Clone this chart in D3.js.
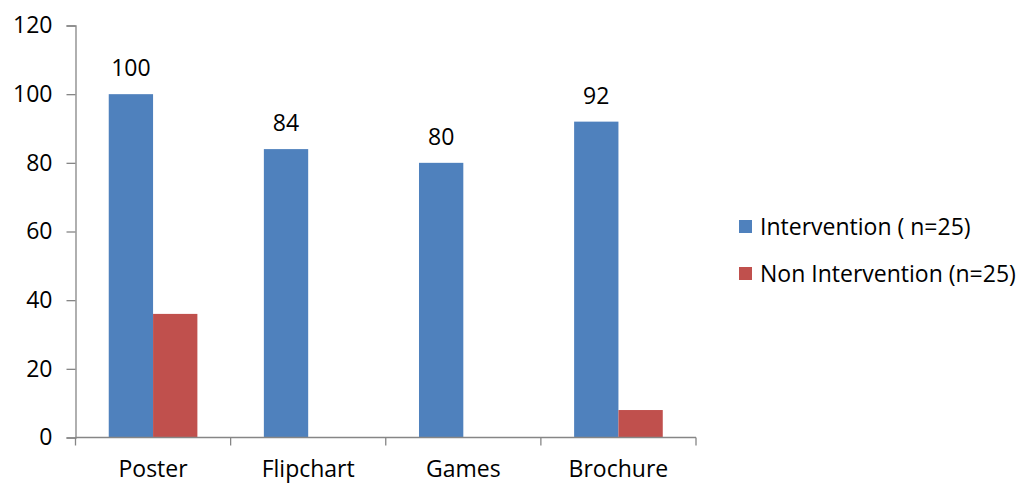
<!DOCTYPE html>
<html>
<head>
<meta charset="utf-8">
<script src="https://cdn.jsdelivr.net/npm/d3@7"></script>
<style>
  html, body { margin: 0; padding: 0; background: #fff; }
  svg { display: block; }
  text { font-family: "Open Sans", sans-serif; fill: #000; }
</style>
</head>
<body>
<svg id="chart" width="1024" height="483"></svg>
<script>
const categories = ["Poster", "Flipchart", "Games", "Brochure"];
const intervention = [100, 84, 80, 92];
const nonIntervention = [36, 0, 0, 8];
const seriesNames = ["Intervention ( n=25)", "Non Intervention (n=25)"];
const yTicks = [0, 20, 40, 60, 80, 100, 120];

const colors = ["#4F81BD", "#C0504D"];
const axisColor = "#868686";
const fontSize = "23px";

const svg = d3.select("#chart");
const plot = { left: 75.5, right: 696, top: 25.5, bottom: 437.5 };

const x = d3.scaleBand().domain(categories).range([plot.left, plot.right]).padding(0);
const x1 = d3.scaleBand().domain([0, 1]).range([0, x.bandwidth()])
  .paddingInner(0).paddingOuter(0.75);
const y = d3.scaleLinear().domain([0, 120]).range([plot.bottom, plot.top]);

const series = [intervention, nonIntervention];

// bars
series.forEach((vals, si) => {
  svg.append("g").selectAll("rect")
    .data(vals.map((v, i) => ({ v, c: categories[i] })))
    .join("rect")
    .attr("x", d => x(d.c) + x1(si))
    .attr("width", x1.bandwidth())
    .attr("y", d => y(d.v))
    .attr("height", d => y(0) - y(d.v))
    .attr("fill", colors[si]);
});

// value labels on the intervention bars
svg.append("g").selectAll("text")
  .data(intervention.map((v, i) => ({ v, c: categories[i] })))
  .join("text")
  .attr("x", d => x(d.c) + x1(0) + x1.bandwidth() / 2)
  .attr("y", d => y(d.v) - 18)
  .attr("text-anchor", "middle")
  .style("font-size", fontSize)
  .text(d => d.v);

// y axis
const yAxis = svg.append("g")
  .attr("transform", `translate(${plot.left},0)`)
  .call(d3.axisLeft(y).tickValues(yTicks).tickSize(9).tickPadding(14));
yAxis.select(".domain").attr("stroke", axisColor).attr("stroke-width", 1.3);
yAxis.selectAll(".tick line").attr("stroke", axisColor).attr("stroke-width", 1.3);
yAxis.selectAll(".tick text").style("font-size", fontSize).attr("font-family", null);

// x axis with boundary ticks between categories
const xAxis = svg.append("g").attr("transform", `translate(0,${plot.bottom})`);
xAxis.append("line")
  .attr("x1", plot.left).attr("x2", plot.right)
  .attr("stroke", axisColor).attr("stroke-width", 1.3);
const bounds = categories.map(c => x(c)).concat([plot.right]);
xAxis.selectAll("line.b").data(bounds).join("line")
  .attr("class", "b")
  .attr("x1", d => d).attr("x2", d => d)
  .attr("y1", 0).attr("y2", 8)
  .attr("stroke", axisColor).attr("stroke-width", 1.3);
xAxis.selectAll("text").data(categories).join("text")
  .attr("x", d => x(d) + x.bandwidth() / 2)
  .attr("y", 39.5)
  .attr("text-anchor", "middle")
  .style("font-size", fontSize)
  .text(d => d);

// legend
const legend = svg.append("g");
seriesNames.forEach((name, i) => {
  const ly = 226.5 + i * 47;
  legend.append("rect")
    .attr("x", 739).attr("y", ly - 6.5)
    .attr("width", 13).attr("height", 13)
    .attr("fill", colors[i]);
  legend.append("text")
    .attr("x", 760).attr("y", ly)
    .attr("dy", "0.35em")
    .style("font-size", fontSize)
    .text(name);
});
</script>
</body>
</html>
